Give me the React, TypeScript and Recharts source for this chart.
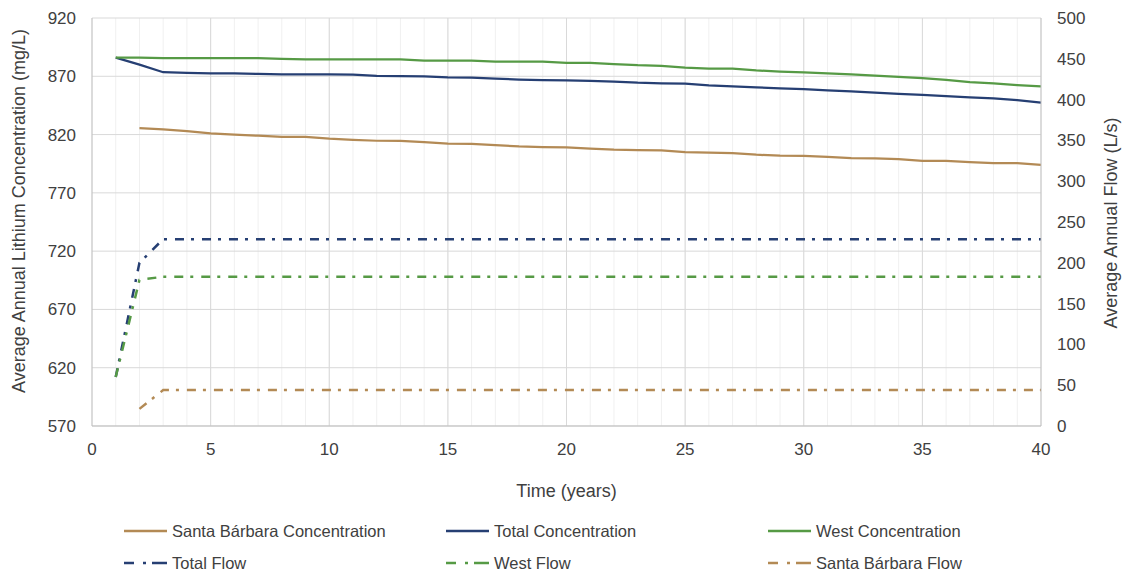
import React from 'react';
import {
  LineChart,
  Line,
  XAxis,
  YAxis,
  CartesianGrid,
  ReferenceLine,
  Legend,
} from 'recharts';

// Time axis (years)
const years = [
  1, 2, 3, 4, 5, 6, 7, 8, 9, 10, 11, 12, 13, 14, 15, 16, 17, 18, 19, 20,
  21, 22, 23, 24, 25, 26, 27, 28, 29, 30, 31, 32, 33, 34, 35, 36, 37, 38, 39, 40,
];

// Concentrations (mg/L), left axis
const westConc = [
  886, 886, 885.5, 885.5, 885.5, 885.5, 885.5, 885, 884.5, 884.5,
  884.5, 884.5, 884.5, 883.5, 883.5, 883.5, 882.5, 882.5, 882.5, 881.5,
  881.5, 880.5, 879.5, 879, 877.5, 876.5, 876.5, 875, 874, 873.3,
  872.5, 871.6, 870.5, 869.4, 868.5, 867, 865, 864, 862.5, 861.3,
];
const totalConc = [
  886, 880, 873.5, 873, 872.5, 872.5, 872, 871.6, 871.6, 871.6,
  871.4, 870.3, 870.2, 870, 869, 868.8, 868, 867.2, 866.8, 866.4,
  866, 865.5, 864.5, 864, 863.8, 862.2, 861.3, 860.4, 859.7, 859,
  858, 857, 856, 855, 854, 853, 852, 851, 849.5, 847.5,
];
const sbConc = [
  null, 825.6, 824.5, 823, 821, 820, 819, 818, 818, 816.5,
  815.5, 814.7, 814.5, 813.5, 812.2, 812, 811, 809.8, 809.3, 809,
  808, 807, 806.7, 806.4, 805, 804.5, 804.1, 802.7, 801.9, 801.8,
  800.8, 799.8, 799.5, 799, 797.5, 797.5, 796.4, 795.5, 795.5, 794,
];

// Flows (L/s), right axis
const totalFlow = [
  60, 200, 229, 229, 229, 229, 229, 229, 229, 229,
  229, 229, 229, 229, 229, 229, 229, 229, 229, 229,
  229, 229, 229, 229, 229, 229, 229, 229, 229, 229,
  229, 229, 229, 229, 229, 229, 229, 229, 229, 229,
];
const westFlow = [
  60, 179, 183, 183, 183, 183, 183, 183, 183, 183,
  183, 183, 183, 183, 183, 183, 183, 183, 183, 183,
  183, 183, 183, 183, 183, 183, 183, 183, 183, 183,
  183, 183, 183, 183, 183, 183, 183, 183, 183, 183,
];
const sbFlow = [
  null, 21, 44, 44, 44, 44, 44, 44, 44, 44,
  44, 44, 44, 44, 44, 44, 44, 44, 44, 44,
  44, 44, 44, 44, 44, 44, 44, 44, 44, 44,
  44, 44, 44, 44, 44, 44, 44, 44, 44, 44,
];

// Tick labels
const xTicks = [
  0, 1, 2, 3, 4, 5, 6, 7, 8, 9, 10, 11, 12, 13, 14, 15, 16, 17, 18, 19, 20,
  21, 22, 23, 24, 25, 26, 27, 28, 29, 30, 31, 32, 33, 34, 35, 36, 37, 38, 39, 40,
];
const xMajorTicks = [5, 10, 15, 20, 25, 30, 35];
const concTicks = [570, 620, 670, 720, 770, 820, 870, 920];
const flowTicks = [0, 50, 100, 150, 200, 250, 300, 350, 400, 450, 500];

const FONT = '"Liberation Sans", Arial, sans-serif';
const TEXT = '#404040';

const BLUE = '#263F73';
const GREEN = '#569A45';
const TAN = '#B38A55';
const DASH = '9 7 3 8';

const data = years.map((year, i) => ({
  year,
  sbConc: sbConc[i],
  totalConc: totalConc[i],
  westConc: westConc[i],
  totalFlow: totalFlow[i],
  westFlow: westFlow[i],
  sbFlow: sbFlow[i],
}));

const legendItems = [
  { name: 'Santa Bárbara Concentration', color: TAN, dashed: false },
  { name: 'Total Concentration', color: BLUE, dashed: false },
  { name: 'West Concentration', color: GREEN, dashed: false },
  { name: 'Total Flow', color: BLUE, dashed: true },
  { name: 'West Flow', color: GREEN, dashed: true },
  { name: 'Santa Bárbara Flow', color: TAN, dashed: true },
];

function ChartLegend() {
  return (
    <div
      style={{
        width: 1123,
        height: 68,
        boxSizing: 'border-box',
        paddingTop: 9,
        paddingLeft: 124,
        display: 'grid',
        gridTemplateColumns: '322px 322px 322px',
        gridAutoRows: '32px',
        fontFamily: FONT,
        fontSize: 16.5,
        color: TEXT,
      }}
    >
      {legendItems.map((item) => (
        <div key={item.name} style={{ display: 'flex', alignItems: 'center' }}>
          <svg width={43} height={6} style={{ marginRight: 5 }}>
            <line
              x1={0}
              y1={3}
              x2={43}
              y2={3}
              stroke={item.color}
              strokeWidth={2.5}
              strokeDasharray={item.dashed ? '10 9 3 6 15' : undefined}
            />
          </svg>
          <span>{item.name}</span>
        </div>
      ))}
    </div>
  );
}

function RotatedTitle({ x, y, text }: { x: number; y: number; text: string }) {
  return (
    <text
      x={x}
      y={y}
      transform={`rotate(-90, ${x}, ${y})`}
      textAnchor="middle"
      fontFamily={FONT}
      fontSize={18}
      fill={TEXT}
    >
      {text}
    </text>
  );
}

export default function App() {
  return (
    <div style={{ position: 'absolute', left: 0, top: 0, background: '#fff' }}>
      <LineChart
        width={1123}
        height={574}
        data={data}
        margin={{ top: 18, right: 0, left: 0, bottom: 0 }}
      >
        <CartesianGrid yAxisId="left" horizontal={false} stroke="#f0f0f0" strokeWidth={1} />
        <CartesianGrid yAxisId="left" vertical={false} stroke="#d9d9d9" strokeWidth={1} />
        {xMajorTicks.map((t) => (
          <ReferenceLine key={t} x={t} yAxisId="left" stroke="#d9d9d9" strokeWidth={1} />
        ))}
        <XAxis
          dataKey="year"
          type="number"
          domain={[0, 40]}
          ticks={xTicks}
          interval={0}
          tickFormatter={(v: number) => (v % 5 === 0 ? String(v) : '')}
          tickLine={false}
          tickSize={0}
          tickMargin={17}
          height={80}
          axisLine={{ stroke: '#bfbfbf' }}
          tick={{ fill: TEXT, fontSize: 17, fontFamily: FONT }}
          label={{
            value: 'Time (years)',
            position: 'insideBottom',
            offset: 9,
            fill: TEXT,
            fontSize: 18,
            fontFamily: FONT,
          }}
        />
        <YAxis
          yAxisId="left"
          domain={[570, 920]}
          ticks={concTicks}
          interval={0}
          width={92}
          tickLine={false}
          tickSize={0}
          tickMargin={16}
          axisLine={{ stroke: '#bfbfbf' }}
          tick={{ fill: TEXT, fontSize: 17, fontFamily: FONT }}
          label={{
            content: () => (
              <RotatedTitle x={25} y={211} text="Average Annual Lithium Concentration (mg/L)" />
            ),
          }}
        />
        <YAxis
          yAxisId="right"
          orientation="right"
          domain={[0, 500]}
          ticks={flowTicks}
          interval={0}
          width={82}
          tickLine={false}
          tickSize={0}
          tickMargin={16}
          axisLine={{ stroke: '#bfbfbf' }}
          tick={{ fill: TEXT, fontSize: 17, fontFamily: FONT }}
          label={{
            content: () => <RotatedTitle x={1117} y={223} text="Average Annual Flow (L/s)" />,
          }}
        />
        <Legend verticalAlign="bottom" content={() => <ChartLegend />} />

        <Line yAxisId="left" dataKey="sbConc" name="Santa Bárbara Concentration" stroke={TAN}
          strokeWidth={2.25} dot={false} activeDot={false} isAnimationActive={false} />
        <Line yAxisId="left" dataKey="totalConc" name="Total Concentration" stroke={BLUE}
          strokeWidth={2.25} dot={false} activeDot={false} isAnimationActive={false} />
        <Line yAxisId="left" dataKey="westConc" name="West Concentration" stroke={GREEN}
          strokeWidth={2.25} dot={false} activeDot={false} isAnimationActive={false} />
        <Line yAxisId="right" dataKey="totalFlow" name="Total Flow" stroke={BLUE}
          strokeWidth={2.5} strokeDasharray={DASH} dot={false} activeDot={false} isAnimationActive={false} />
        <Line yAxisId="right" dataKey="westFlow" name="West Flow" stroke={GREEN}
          strokeWidth={2.5} strokeDasharray={DASH} dot={false} activeDot={false} isAnimationActive={false} />
        <Line yAxisId="right" dataKey="sbFlow" name="Santa Bárbara Flow" stroke={TAN}
          strokeWidth={2.5} strokeDasharray={DASH} dot={false} activeDot={false} isAnimationActive={false} />
      </LineChart>
    </div>
  );
}
